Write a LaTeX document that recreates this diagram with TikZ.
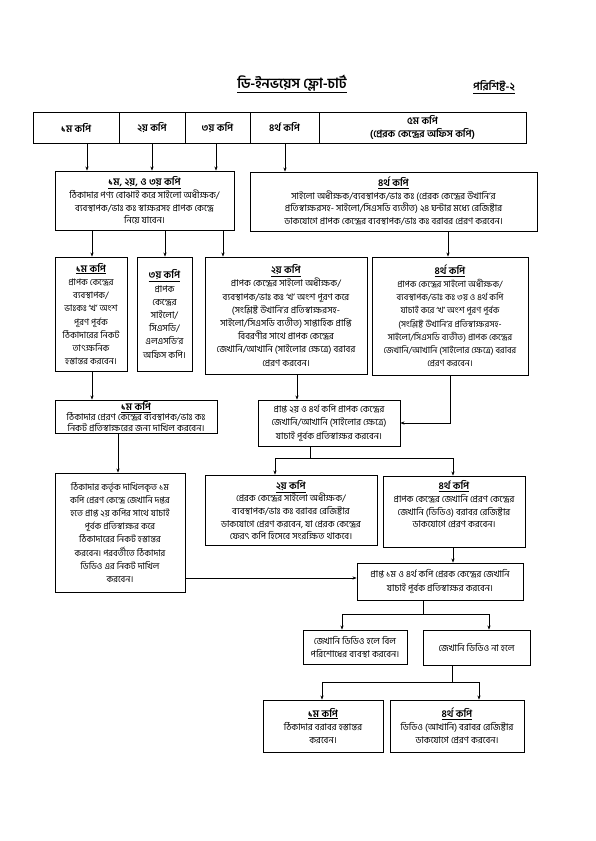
\documentclass[tikz,border=0pt]{standalone}
\usepackage{fontspec}
\newfontfamily\bn[Script=Bengali]{Hind Siliguri}
\usetikzlibrary{arrows.meta}
\newcommand\hdr[1]{\underline{\fontsize{10}{13}\selectfont\textbf{#1}}}
\begin{document}
\begin{tikzpicture}[x=1pt,y=-1pt,
  bx/.style={draw, line width=0.9pt, inner sep=0pt, align=center,
    font=\bn\fontsize{9.2}{13.2}\selectfont},
  hd/.style={draw, line width=0.9pt, inner sep=0pt, align=center,
    font=\bn\bfseries\fontsize{10}{14}\selectfont},
  arr/.style={line width=0.8pt, -{Stealth[length=4pt,width=3.2pt]}},
  ln/.style={line width=0.8pt}]
\useasboundingbox (0,0) rectangle (595,841);
\fill[white] (0,0) rectangle (595,841);
% title
\node[font=\bn\bfseries\fontsize{14}{16}\selectfont] (title) at (292,84) {\underline{ডি-ইনভয়েস ফ্লো-চার্ট}};
\node[font=\bn\bfseries\fontsize{11}{13}\selectfont] (annex) at (494,87) {\underline{পরিশিষ্ট-২}};
% top row
\node[hd, minimum width=86pt, minimum height=31pt] (c1) at (76,127.5) {১ম কপি};
\node[hd, minimum width=66pt, minimum height=31pt] (c2) at (152,127.5) {২য় কপি};
\node[hd, minimum width=65pt, minimum height=31pt] (c3) at (217.5,127.5) {৩য় কপি};
\node[hd, minimum width=69pt, minimum height=31pt] (c4) at (284.5,127.5) {৪র্থ কপি};
\node[hd, minimum width=207pt, minimum height=31pt, font=\bn\bfseries\fontsize{10}{12.5}\selectfont] (c5) at (422.5,127.5) {৫ম কপি\\(প্রেরক কেন্দ্রের অফিস কপি)};
% row 2
\node[bx, minimum width=179pt, minimum height=59pt, font=\bn\fontsize{9.2}{12.8}\selectfont] (b1) at (144.5,200.5)
 {\hdr{১ম, ২য়, ও ৩য় কপি}\\ঠিকাদার পণ্য বোঝাই করে সাইলো অধীক্ষক/\\ব্যবস্থাপক/ভাঃ কঃ স্বাক্ষরসহ প্রাপক কেন্দ্রে\\নিয়ে যাবেন।};
\node[bx, minimum width=287pt, minimum height=59pt, font=\bn\fontsize{9.2}{12.8}\selectfont] (b2) at (393.5,201.5)
 {\hdr{৪র্থ কপি}\\সাইলো অধীক্ষক/ব্যবস্থাপক/ভাঃ কঃ (প্রেরক কেন্দ্রের উখানি’র\\প্রতিস্বাক্ষরসহ- সাইলো/সিএসডি ব্যতীত) ২৪ ঘন্টার মধ্যে রেজিষ্টার\\ডাকযোগে প্রাপক কেন্দ্রের ব্যবস্থাপক/ভাঃ কঃ বরাবর প্রেরণ করবেন।};
% row 3
\node[bx, minimum width=72pt, minimum height=114pt, font=\bn\fontsize{9}{13.2}\selectfont] (r3a) at (91,314)
 {\hdr{১ম কপি}\\প্রাপক কেন্দ্রের\\ব্যবস্থাপক/\\ভাঃকঃ ‘খ’ অংশ\\পূরণ পূর্বক\\ঠিকাদারের নিকট\\তাৎক্ষনিক\\হস্তান্তর করবেন।};
\node[bx, minimum width=55pt, minimum height=114pt] (r3b) at (164.5,314)
 {\hdr{৩য় কপি}\\প্রাপক\\কেন্দ্রের\\সাইলো/\\সিএসডি/\\এলএসডি’র\\অফিস কপি।};
\node[bx, minimum width=162pt, minimum height=117pt] (r3c) at (286,315.5)
 {\hdr{২য় কপি}\\প্রাপক কেন্দ্রের সাইলো অধীক্ষক/\\ব্যবস্থাপক/ভাঃ কঃ ‘খ’ অংশ পূরণ করে\\(সংশ্লিষ্ট উখানি’র প্রতিস্বাক্ষরসহ-\\সাইলো/সিএসডি ব্যতীত) সাপ্তাহিক প্রাপ্তি\\বিবরণীর সাথে প্রাপক কেন্দ্রের\\জেখানি/আখানি (সাইলোর ক্ষেত্রে) বরাবর\\প্রেরণ করবেন।};
\node[bx, minimum width=156pt, minimum height=118pt, font=\bn\fontsize{8.8}{13.2}\selectfont] (r3d) at (450,316)
 {\hdr{৪র্থ কপি}\\প্রাপক কেন্দ্রের সাইলো অধীক্ষক/\\ব্যবস্থাপক/ভাঃ কঃ ৩য় ও ৪র্থ কপি\\যাচাই করে ‘খ’ অংশ পূরণ পূর্বক\\(সংশ্লিষ্ট উখানি’র প্রতিস্বাক্ষরসহ-\\সাইলো/সিএসডি ব্যতীত) প্রাপক কেন্দ্রের\\জেখানি/আখানি (সাইলোর ক্ষেত্রে) বরাবর\\প্রেরণ করবেন।};
% row 4
\node[bx, minimum width=162pt, minimum height=33pt, font=\bn\fontsize{9.2}{10.4}\selectfont] (r4a) at (136,416.5)
 {\hdr{১ম কপি}\\ঠিকাদার প্রেরণ কেন্দ্রের ব্যবস্থাপক/ভাঃ কঃ\\নিকট প্রতিস্বাক্ষরের জন্য দাখিল করবেন।};
\node[bx, minimum width=142pt, minimum height=46pt] (r4b) at (329,423)
 {প্রাপ্ত ২য় ও ৪র্থ কপি প্রাপক কেন্দ্রের\\জেখানি/আখানি (সাইলোর ক্ষেত্রে)\\যাচাই পূর্বক প্রতিস্বাক্ষর করবেন।};
% row 5
\node[bx, minimum width=130pt, minimum height=119pt, font=\bn\fontsize{9}{13.2}\selectfont] (r5a) at (120,532.5)
 {ঠিকাদার কর্তৃক দাখিলকৃত ১ম\\কপি প্রেরণ কেন্দ্রে জেখানি দপ্তর\\হতে প্রাপ্ত ২য় কপির সাথে যাচাই\\পূর্বক প্রতিস্বাক্ষর করে\\ঠিকাদারের নিকট হস্তান্তর\\করবেন। পরবর্তীতে ঠিকাদার\\ডিডিও এর নিকট দাখিল\\করবেন।};
\node[bx, minimum width=172pt, minimum height=70pt, font=\bn\fontsize{9.2}{12.6}\selectfont] (r5b) at (291,510)
 {\hdr{২য় কপি}\\প্রেরক কেন্দ্রের সাইলো অধীক্ষক/\\ব্যবস্থাপক/ভাঃ কঃ বরাবর রেজিষ্টার\\ডাকযোগে প্রেরণ করবেন, যা প্রেরক কেন্দ্রের\\ফেরৎ কপি হিসেবে সংরক্ষিত থাকবে।};
\node[bx, minimum width=142pt, minimum height=71pt, font=\bn\fontsize{9.2}{12.6}\selectfont] (r5c) at (454,511.5)
 {\hdr{৪র্থ কপি}\\প্রাপক কেন্দ্রের জেখানি প্রেরণ কেন্দ্রের\\জেখানি (ডিডিও) বরাবর রেজিষ্টার\\ডাকযোগে প্রেরণ করবেন।\\[2pt]};
\node[bx, minimum width=166pt, minimum height=37pt] (f) at (440,581.5)
 {প্রাপ্ত ১ম ও ৪র্থ কপি প্রেরক কেন্দ্রের জেখানি\\যাচাই পূর্বক প্রতিস্বাক্ষর করবেন।};
% row 6
\node[bx, minimum width=104pt, minimum height=34pt] (g1) at (355,647)
 {জেখানি ডিডিও হলে বিল\\পরিশোধের ব্যবস্থা করবেন।};
\node[bx, minimum width=107pt, minimum height=35pt] (g2) at (476.5,647.5)
 {জেখানি ডিডিও না হলে};
% row 7
\node[bx, minimum width=120pt, minimum height=52pt] (h1) at (323,726)
 {\hdr{১ম কপি}\\ঠিকাদার বরাবর হস্তান্তর\\করবেন।};
\node[bx, minimum width=134pt, minimum height=52pt] (h2) at (457,726)
 {\hdr{৪র্থ কপি}\\ডিডিও (আখানি) বরাবর রেজিষ্টার\\ডাকযোগে প্রেরণ করবেন।};
% helper coordinates
\coordinate (x87) at (87,0);
\coordinate (x152) at (152,0);
\coordinate (x216) at (216,0);
\coordinate (x285) at (285,0);
\coordinate (x92) at (92,0);
\coordinate (x165) at (165,0);
\coordinate (x223) at (223,0);
\coordinate (x448) at (448,0);
\coordinate (x297) at (297,0);
\coordinate (x118) at (118,0);
\coordinate (x275) at (275,0);
\coordinate (x453) at (453,0);
\coordinate (x342) at (342,0);
\coordinate (x489) at (489,0);
\coordinate (x322) at (322,0);
\coordinate (x479) at (479,0);
\coordinate (k1) at (450,423);
\coordinate (k2) at (0,578);
\coordinate (j1) at (310,458);
\coordinate (j2) at (423,614);
\coordinate (j3) at (452,682);
% connectors
\draw[arr] (c1.south -| x87) -- (b1.north -| x87);
\draw[arr] (c2.south -| x152) -- (b1.north -| x152);
\draw[arr] (c3.south -| x216) -- (b1.north -| x216);
\draw[arr] (c4.south -| x285) -- (b2.north -| x285);
\draw[arr] (b1.south -| x92) -- (r3a.north -| x92);
\draw[arr] (b1.south -| x165) -- (r3b.north -| x165);
\draw[arr] (b1.south -| x223) -- (r3c.north -| x223);
\draw[arr] (b2.south -| x448) -- (r3d.north -| x448);
\draw[arr] (r3a.south -| x92) -- (r4a.north -| x92);
\draw[arr] (r3c.south -| x297) -- (r4b.north -| x297);
\draw[arr] (r3d.south -| k1) -- (k1) -- (k1 -| r4b.east);
\draw[arr] (r4a.south -| x118) -- (r5a.north -| x118);
\draw[ln] (r4b.south -| j1) -- (j1);
\draw[arr] (j1) -| (r5b.north -| x275);
\draw[arr] (j1) -| (r5c.north -| x453);
\draw[arr] (r5a.east |- k2) -- (f.west |- k2);
\draw[arr] (r5c.south -| x453) -- (f.north -| x453);
\draw[ln] (f.south -| j2) -- (j2);
\draw[arr] (j2) -| (g1.north -| x342);
\draw[arr] (j2) -| (g2.north -| x489);
\draw[ln] (g2.south -| j3) -- (j3);
\draw[arr] (j3) -| (h1.north -| x322);
\draw[arr] (j3) -| (h2.north -| x479);
\end{tikzpicture}
\end{document}
